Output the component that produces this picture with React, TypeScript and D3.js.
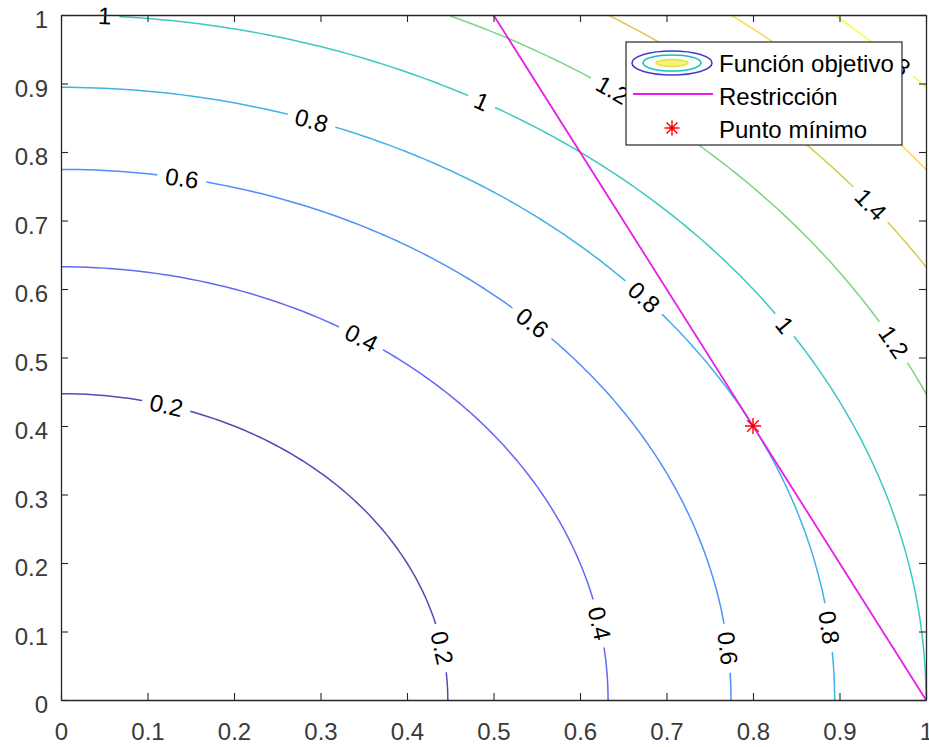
import React, { useEffect, useRef } from 'react';
import * as d3 from 'd3';

// f(x, y) = x^2 + y^2, contour levels as MATLAB picked them
const levels = [0.2, 0.4, 0.6, 0.8, 1, 1.2, 1.4, 1.6, 1.8];
const ticks = [0, 0.1, 0.2, 0.3, 0.4, 0.5, 0.6, 0.7, 0.8, 0.9, 1];
const tickLabels = ['0', '0.1', '0.2', '0.3', '0.4', '0.5', '0.6', '0.7', '0.8', '0.9', '1'];

// inline contour labels: which level, and where along it (angle in degrees)
const labelLevels = [1, 1, 1.2, 0.8, 0.6, 0.4, 0.2, 0.6, 0.8, 1, 1.4, 1.2, 0.2, 0.4, 0.6, 0.8, 1.8];
const labelAngles = [87.1, 60.9, 54.4, 71.1, 79.6, 56.7, 74.2, 45.3, 41.1, 33.2, 37.7, 28.5, 9.8, 10.2, 5.6, 6.8, 44.1];

// restriction 2x + y = 2
const constraintX = [0.5, 1];
const constraintY = [1, 0];

// minimum point
const minX = [0.8];
const minY = [0.4];

const legendNames = ['Función objetivo', 'Restricción', 'Punto mínimo'];

// parula, sampled
const parula = ['#3e26a8', '#484df0', '#327bfc', '#20a5e3', '#19bfb5', '#64cd6f', '#d1bf27', '#fccf30', '#f9fb15'];

const objective = (x: number, y: number) => x * x + y * y;

const W = 929;
const H = 747;
const FONT = '"Liberation Sans", Arial, Helvetica, sans-serif';
const INK = '#262626';

const App = () => {
    const svgRef = useRef<SVGSVGElement>(null);

    useEffect(() => {
        const svg = d3.select(svgRef.current);
        svg.selectAll('*').remove();

        const x = d3.scaleLinear().domain([0, 1]).range([61, 926]);
        const y = d3.scaleLinear().domain([0, 1]).range([700, 15]);
        const color = d3.scaleSequential(d3.piecewise(d3.interpolateRgb, parula))
            .domain([levels[0], levels[levels.length - 1]]);

        // meshgrid 0:0.01:1
        const n = 101;
        const step = 1 / (n - 1);
        const values: number[] = new Array(n * n);
        for (let j = 0; j < n; j++) {
            for (let i = 0; i < n; i++) values[j * n + i] = objective(i * step, j * step);
        }
        const contours = d3.contours().size([n, n]).thresholds(levels)(values);
        const path = d3.geoPath(d3.geoTransform({
            point(px: number, py: number) {
                this.stream.point(x((px - 0.5) * step), y((py - 0.5) * step));
            }
        }));

        const defs = svg.append('defs');
        defs.append('clipPath').attr('id', 'plotClip')
            .append('rect')
            .attr('x', x(0)).attr('y', y(1))
            .attr('width', x(1) - x(0)).attr('height', y(0) - y(1));

        const mask = defs.append('mask').attr('id', 'labelGaps')
            .attr('maskUnits', 'userSpaceOnUse')
            .attr('x', 0).attr('y', 0).attr('width', W).attr('height', H);
        mask.append('rect').attr('width', W).attr('height', H).attr('fill', 'white');

        // Contour lines
        svg.append('g')
            .attr('clip-path', 'url(#plotClip)')
            .append('g')
            .attr('mask', 'url(#labelGaps)')
            .selectAll('path')
            .data(contours)
            .join('path')
            .attr('d', d => path(d as any))
            .attr('fill', 'none')
            .attr('stroke', d => color(d.value))
            .attr('stroke-opacity', 0.85)
            .attr('stroke-width', 1.5);

        // Contour labels, rotated along the curve
        const labelData = labelLevels.map((lv, i) => {
            const r = Math.sqrt(lv);
            const t = labelAngles[i] * Math.PI / 180;
            const px = x(r * Math.cos(t));
            const py = y(r * Math.sin(t));
            const dx = x(r * Math.cos(t + 0.001)) - px;
            const dy = y(r * Math.sin(t + 0.001)) - py;
            let a = Math.atan2(dy, dx) * 180 / Math.PI;
            if (a > 90) a -= 180;
            if (a <= -90) a += 180;
            return { text: String(lv), px, py, a };
        });

        const labels = svg.append('g')
            .selectAll('text')
            .data(labelData)
            .join('text')
            .attr('transform', d => `translate(${d.px},${d.py}) rotate(${d.a})`)
            .attr('text-anchor', 'middle')
            .attr('dominant-baseline', 'central')
            .attr('font-family', FONT)
            .attr('font-size', 24)
            .attr('fill', '#000')
            .text(d => d.text);

        labels.each(function (d) {
            const len = (this as SVGTextElement).getComputedTextLength();
            mask.append('rect')
                .attr('x', -len / 2 - 8).attr('y', -9)
                .attr('width', len + 16).attr('height', 18)
                .attr('transform', `translate(${d.px},${d.py}) rotate(${d.a})`)
                .attr('fill', 'black');
        });

        // Restriction line
        const line = d3.line<number>().x((d, i) => x(constraintX[i])).y(d => y(d));
        svg.append('path')
            .attr('d', line(constraintY))
            .attr('fill', 'none')
            .attr('stroke', '#e81ee8')
            .attr('stroke-width', 1.8);

        // asterisk marker
        const asterisk = (cx: number, cy: number, r: number) => {
            const p = d3.path();
            const q = r * 0.72;
            p.moveTo(cx - r, cy); p.lineTo(cx + r, cy);
            p.moveTo(cx, cy - r); p.lineTo(cx, cy + r);
            p.moveTo(cx - q, cy - q); p.lineTo(cx + q, cy + q);
            p.moveTo(cx - q, cy + q); p.lineTo(cx + q, cy - q);
            return p.toString();
        };
        svg.append('g')
            .selectAll('path')
            .data(minX)
            .join('path')
            .attr('d', (d, i) => asterisk(x(d), y(minY[i]), 8))
            .attr('stroke', '#ff0000')
            .attr('stroke-width', 1.4)
            .attr('fill', 'none');

        // Axes, ticks inward on all four sides
        const styleAxis = (g: d3.Selection<SVGGElement, unknown, null, undefined>) => {
            g.attr('color', INK).attr('font-family', FONT).attr('font-size', 24);
            g.select('.domain').attr('stroke-width', 1.3);
            g.selectAll('.tick line').attr('stroke-width', 1.1);
            g.selectAll('.tick text').attr('fill', '#3a3a3a');
        };

        const bottom = svg.append('g')
            .attr('transform', `translate(0,${y(0)})`)
            .call(d3.axisBottom(x).tickValues(ticks).tickSize(-7).tickSizeOuter(0)
                .tickFormat((d, i) => tickLabels[i]));
        styleAxis(bottom);
        bottom.selectAll('.tick text').attr('y', 31).attr('dy', null).attr('dominant-baseline', 'central');

        const left = svg.append('g')
            .attr('transform', `translate(${x(0)},0)`)
            .call(d3.axisLeft(y).tickValues(ticks).tickSize(-7).tickSizeOuter(0).tickPadding(13)
                .tickFormat((d, i) => tickLabels[i]));
        styleAxis(left);
        left.selectAll('.tick text').attr('y', 4).attr('dy', null).attr('dominant-baseline', 'central');

        const top = svg.append('g')
            .attr('transform', `translate(0,${y(1)})`)
            .call(d3.axisTop(x).tickValues(ticks).tickSize(-7).tickSizeOuter(0).tickFormat(() => ''));
        styleAxis(top);

        const right = svg.append('g')
            .attr('transform', `translate(${x(1)},0)`)
            .call(d3.axisRight(y).tickValues(ticks).tickSize(-7).tickSizeOuter(0).tickFormat(() => ''));
        styleAxis(right);

        // Legend
        const lg = svg.append('g').attr('font-family', FONT).attr('font-size', 24).attr('fill', '#000');
        lg.append('rect')
            .attr('x', 626).attr('y', 42).attr('width', 276).attr('height', 103)
            .attr('fill', 'white').attr('stroke', INK).attr('stroke-width', 1.2);

        const rowY = [63, 96, 129];
        const iconX = 672;

        lg.append('ellipse').attr('cx', iconX).attr('cy', rowY[0]).attr('rx', 40).attr('ry', 12)
            .attr('fill', 'none').attr('stroke', color(0.3)).attr('stroke-width', 1.6);
        lg.append('ellipse').attr('cx', iconX).attr('cy', rowY[0]).attr('rx', 29).attr('ry', 8)
            .attr('fill', 'none').attr('stroke', color(1.0)).attr('stroke-width', 1.6);
        lg.append('ellipse').attr('cx', iconX).attr('cy', rowY[0]).attr('rx', 16).attr('ry', 3.5)
            .attr('fill', '#f4f27a').attr('stroke', '#e8e040').attr('stroke-width', 1.4);

        lg.append('line')
            .attr('x1', 633).attr('x2', 713).attr('y1', rowY[1] - 2).attr('y2', rowY[1] - 2)
            .attr('stroke', '#e81ee8').attr('stroke-width', 1.8);

        lg.append('path')
            .attr('d', asterisk(iconX, rowY[2] - 1, 7.5))
            .attr('stroke', '#ff0000').attr('stroke-width', 1.4).attr('fill', 'none');

        lg.selectAll('text.name')
            .data(legendNames)
            .join('text')
            .attr('class', 'name')
            .attr('x', 719)
            .attr('y', (d, i) => rowY[i])
            .attr('dominant-baseline', 'central')
            .text(d => d);
    }, []);

    return (
        <svg
            ref={svgRef}
            width={W}
            height={H}
            style={{ position: 'absolute', left: 0, top: 0, display: 'block', background: 'white' }}
        />
    );
};

export default App;
